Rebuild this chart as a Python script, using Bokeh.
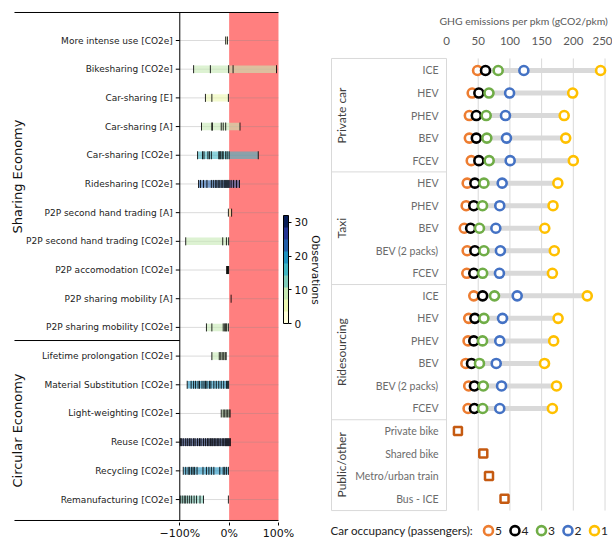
import numpy as np
from bokeh.plotting import figure
from bokeh.models import (Range1d, ColumnDataSource, FixedTicker, LinearColorMapper,
                          ColorBar)
from bokeh.layouts import row
from bokeh.palettes import YlGnBu
from bokeh.core.properties import value
from bokeh.embed import file_html
from bokeh.resources import INLINE

# ---------------------------------------------------------------------------
# Left panel: relative emission change reported per strategy (%)
# ---------------------------------------------------------------------------
strategies = [
    "More intense use [CO2e]", "Bikesharing [CO2e]", "Car-sharing [E]", "Car-sharing [A]",
    "Car-sharing [CO2e]", "Ridesharing [CO2e]", "P2P second hand trading [A]",
    "P2P second hand trading [CO2e]", "P2P accomodation [CO2e]", "P2P sharing mobility [A]",
    "P2P sharing mobility [CO2e]", "Lifetime prolongation [CO2e]",
    "Material Substitution [CO2e]", "Light-weighting [CO2e]", "Reuse [CO2e]",
    "Recycling [CO2e]", "Remanufacturing [CO2e]",
]
sections = ["Sharing Economy", "Circular Economy"]
section_sizes = [11, 6]

more_intense_use = [-7, -3.5]
bikesharing = [-72, -38, -1, 8, 96]
carsharing_e = [-48, -35, -1.5]
carsharing_a = [-56, -35, -34, -16, -12, -7, 22]
carsharing_co2e = [-64, -54, -51, -43, -40, -36, -21, -19, -17, -14, -12, -7, -4, 0, 59]
ridesharing = [-62, -58, -52, -45, -36, -32, -28, -25, -22, -19, -16, -13, -10, -8,
               -6, -4, -2, 0, 4, 9, 15, 21]
p2p_trading_a = [-1.5, 5]
p2p_trading_co2e = [-88, -13, -5.5, -1]
p2p_accommodation = [-5, -4, -3, -2, -1]
p2p_mobility_a = [4]
p2p_mobility_co2e = [-46, -35, -12, -9, -7, -5, -1.5]
lifetime_prolongation = [-35, -20, -17, -14, -11, -8, -6]
material_substitution = [-85, -77, -72, -68, -63, -60, -55, -51, -48, -45, -40, -37,
                         -31, -26, -21, -16, -11, -5.5, -3, -1]
light_weighting = [-16, -12, -9, -6, -3, 0, 2]
reuse = [-99, -97, -93, -88, -84, -80, -77, -72, -69, -64, -60, -57, -52, -48, -44, -41,
         -38, -35, -33, -30, -27, -24, -21, -18, -14, -11, -8, -6, -4, -2, 0, 2.5]
recycling = [-93, -88, -83, -80, -76, -73, -70, -65, -53, -46, -41, -36, -31, -19, -12,
             -9, -5.5, -1.4]
remanufacturing = [-99, -95, -91, -88, -84, -80, -76, -71, -66, -59, -52, -1.5]

observations = [more_intense_use, bikesharing, carsharing_e, carsharing_a, carsharing_co2e,
                ridesharing, p2p_trading_a, p2p_trading_co2e, p2p_accommodation,
                p2p_mobility_a, p2p_mobility_co2e, lifetime_prolongation,
                material_substitution, light_weighting, reuse, recycling, remanufacturing]

# number of observations per strategy (coincident values overlap in the strips)
obs_count = [6, 9, 7, 9, 15, 23, 4, 8, 8, 1, 9, 9, 20, 9, 32, 18, 14]

# extent of the shaded band on each row
band_low = [-7, -72, -48, -56, -64, -62, -1.5, -88, -5, 4, -46, -35, -85, -16, -99, -93, -99]
band_high = [-3.5, 96, -1.5, 22, 59, 21, 5, -1, -1, 4, -1.5, -6, -1, 2, 2.5, -1.4, -52]

obs_ticks = [0, 10, 20, 30]
pct_ticks = [-100, 0, 100]
pct_labels = ["\u2212100%", "0%", "100%"]

# ---------------------------------------------------------------------------
# Right panel: GHG emissions per passenger-km by vehicle and occupancy
# ---------------------------------------------------------------------------
groups = ["Private car", "Taxi", "Ridesourcing", "Public/other"]
group_sizes = [5, 5, 6, 4]
vehicles = ["ICE", "HEV", "PHEV", "BEV", "FCEV",
            "HEV", "PHEV", "BEV", "BEV (2 packs)", "FCEV",
            "ICE", "HEV", "PHEV", "BEV", "BEV (2 packs)", "FCEV",
            "Private bike", "Shared bike", "Metro/urban train", "Bus - ICE"]
occupancy = ["5", "4", "3", "2", "1"]
occ5 = [49, 40.5, 36, 36, 39, 32.6, 31, 28, 32.6, 32, 43, 35, 34, 30.5, 35, 34]
occ4 = [61.5, 51, 47, 47, 51, 44.7, 43, 38, 44.7, 43, 57, 44.7, 43, 39.4, 44, 44]
occ3 = [81.5, 67, 62.6, 63.6, 67.3, 59, 56.8, 52, 59, 57, 75.7, 59, 56.8, 52, 58, 57]
occ2 = [122, 99.5, 93, 94.6, 100.4, 87.8, 84, 77.8, 85, 83.5, 111.5, 88.3, 84, 78.4, 86.8, 84]
occ1 = [243, 199, 185.6, 188, 200, 175.6, 168, 155, 170, 167, 222, 176, 169, 154.6, 173.5, 167]
public_other = [18, 58, 67, 91.5]
ghg_ticks = [0, 50, 100, 150, 200, 250]

occ_colors = ["#ED7D31", "#000000", "#70AD47", "#4472C4", "#FFC000"]
FONT_L = value("DejaVu Sans")
FONT_R = value("Lato")

# ===================== left figure =====================
n_rows = len(strategies)
rows = np.arange(1, n_rows + 1)
PX = 0.4935                      # screen pixels per percentage point
top_y, bot_y, split_y = 0.024, 17.73, 11.457
x_edge = -435.0                  # left end of the frame rules

left = figure(width=322, height=545, title=None,
              x_range=Range1d(-453.2, 189.2), y_range=Range1d(17.80, -0.0457),
              y_axis_location=None, output_backend="svg", toolbar_location=None,
              min_border_left=5, min_border_right=0, min_border_top=10, min_border_bottom=23)
left.frame_align = False
left.outline_line_color = None
left.grid.visible = False

xa = left.xaxis[0]
xa.ticker = FixedTicker(ticks=pct_ticks)
xa.major_label_overrides = {t: s for t, s in zip(pct_ticks, pct_labels)}
xa.axis_line_color = None
xa.major_tick_in = 0
xa.major_tick_out = 3
xa.major_tick_line_color = "black"
xa.minor_tick_line_color = None
xa.major_label_standoff = 1
xa.major_label_text_font = "DejaVu Sans"
xa.major_label_text_font_size = "11px"
xa.major_label_text_color = "#111111"

# positive (increase) region
left.quad(left=0, right=100, top=top_y, bottom=bot_y, fill_color="#ff7f7f", line_color=None)

# faint row rules
left.segment(x0=-100, x1=100, y0=rows, y1=rows, line_color="#888888", line_alpha=0.3, line_width=1)

palette = list(reversed(YlGnBu[9]))
mapper = LinearColorMapper(palette=palette, low=0, high=32)
band_src = ColumnDataSource(dict(y=rows, lo=band_low, hi=band_high, n=obs_count))
left.hbar(y="y", left="lo", right="hi", height=0.26, source=band_src,
          fill_color={"field": "n", "transform": mapper}, fill_alpha=0.6, line_color=None)

tx, ty = [], []
for r, vals in zip(rows, observations):
    tx.extend(vals)
    ty.extend([r] * len(vals))
ty = np.array(ty, dtype=float)
left.segment(x0=tx, x1=tx, y0=ty - 0.14, y1=ty + 0.14, line_color="black",
             line_width=1.0, line_alpha=0.85)

# frame rules and category ticks
left.segment(x0=[x_edge, x_edge, x_edge, -100], x1=[100, 100, -100, -100],
             y0=[top_y, bot_y, split_y, top_y], y1=[top_y, bot_y, split_y, bot_y],
             line_color="black", line_width=1)
left.segment(x0=-100 - 4 / PX, x1=-100, y0=rows, y1=rows, line_color="black", line_width=1)
left.text(x=-100 - 7 / PX, y=rows, text=strategies, text_align="right",
          text_baseline="middle", text_font=FONT_L, text_font_size="9px",
          text_color="#222222")

sec_bounds = [top_y, split_y, bot_y]
sec_y = [(sec_bounds[k] + sec_bounds[k + 1]) / 2 for k in range(len(sections))]
left.text(x=-429, y=sec_y, text=sections, angle=np.pi / 2, text_align="center",
          text_baseline="middle", text_font=FONT_L, text_font_size="13px",
          text_color="#111111")

cbar = ColorBar(color_mapper=mapper, location=(278, 199), width=5, height=108, padding=0,
                ticker=FixedTicker(ticks=obs_ticks), major_tick_in=0, major_tick_out=3,
                major_tick_line_color="black", bar_line_color="black",
                major_label_text_font="DejaVu Sans", major_label_text_font_size="10.5px",
                major_label_text_color="#111111", label_standoff=3,
                background_fill_alpha=0, border_line_color=None)
left.add_layout(cbar)
left.text(x=177, y=9.0, text=["Observations"], angle=-np.pi / 2, text_align="center",
          text_baseline="middle", text_font=FONT_L, text_font_size="10.5px",
          text_color="#111111")

# ===================== right figure =====================
PXR = 0.634                      # screen pixels per gCO2/pkm
tbl_top, tbl_bot = 0.467, 20.53
tbl_left = -181.4

right = figure(width=290, height=545, title="GHG emissions per pkm (gCO2/pkm)",
               x_range=Range1d(-195.6, 261.8), y_range=Range1d(22.08, 0.379),
               x_axis_location="above", y_axis_location=None,
               output_backend="svg", toolbar_location=None,
               min_border_left=0, min_border_right=0, min_border_top=56, min_border_bottom=0)
right.frame_align = False
right.outline_line_color = None
right.grid.visible = False
right.title.align = "left"
right.title.offset = 117
right.title.text_font = "Lato"
right.title.text_font_size = "10.4px"
right.title.text_font_style = "normal"
right.title.text_color = "#595959"
right.title.standoff = 13

ra = right.xaxis[0]
ra.ticker = FixedTicker(ticks=ghg_ticks)
ra.axis_line_color = None
ra.major_tick_line_color = None
ra.minor_tick_line_color = None
ra.major_label_standoff = 6
ra.major_label_text_font = "Lato"
ra.major_label_text_font_size = "11.5px"
ra.major_label_text_color = "#595959"

grid_col = "#d9d9d9"
right.segment(x0=ghg_ticks, x1=ghg_ticks, y0=tbl_top, y1=tbl_bot, line_color=grid_col, line_width=1)

# label table rules
bounds = np.concatenate([[0], np.cumsum(group_sizes)]) + 0.5
hy = [tbl_top] + list(bounds[1:-1]) + [tbl_bot]
right.segment(x0=tbl_left, x1=0, y0=hy, y1=hy, line_color=grid_col, line_width=1)
right.segment(x0=tbl_left, x1=tbl_left, y0=tbl_top, y1=tbl_bot, line_color=grid_col, line_width=1)

r_rows = np.arange(1, len(vehicles) + 1)
n_car = len(occ1)
car_rows = r_rows[:n_car]
right.segment(x0=occ5, x1=occ1, y0=car_rows, y1=car_rows, line_color=grid_col, line_width=5)

for col, vals in zip(occ_colors, [occ5, occ4, occ3, occ2, occ1]):
    right.scatter(x=vals, y=car_rows, marker="circle", size=9, line_color=col,
                  line_width=2.6, fill_color="white")

right.scatter(x=public_other, y=r_rows[n_car:], marker="square", size=8,
              line_color="#C55A11", line_width=2.5, fill_color="white")

right.text(x=-12.6, y=r_rows, text=vehicles, text_align="right", text_baseline="middle",
           text_font=FONT_R, text_font_size="10.5px", text_color="#6b6b6b")
gy = [(bounds[k] + bounds[k + 1]) / 2 for k in range(len(groups))]
right.text(x=-165.6, y=gy, text=groups, angle=np.pi / 2, text_align="center",
           text_baseline="middle", text_font=FONT_R, text_font_size="12px",
           text_color="#404040")

# occupancy key below the table
key_y = 21.42
key_x0, key_step = 66.2, 26.5 / PXR
key_x = [key_x0 + k * key_step for k in range(len(occupancy))]
right.text(x=-183, y=[key_y], text=["Car occupancy (passengers):"], text_align="left",
           text_baseline="middle", text_font=FONT_R, text_font_size="11.6px",
           text_color="#222222")
right.scatter(x=key_x, y=[key_y] * len(key_x), marker="circle", size=9,
              line_color=occ_colors, line_width=2.6, fill_color="white")
right.text(x=[x + 6.5 / PXR for x in key_x], y=[key_y] * len(key_x), text=occupancy,
           text_align="left", text_baseline="middle", text_font=FONT_R,
           text_font_size="12px", text_color="#222222")

layout = row(left, right)
open("out.html", "w").write(file_html(layout, INLINE))
